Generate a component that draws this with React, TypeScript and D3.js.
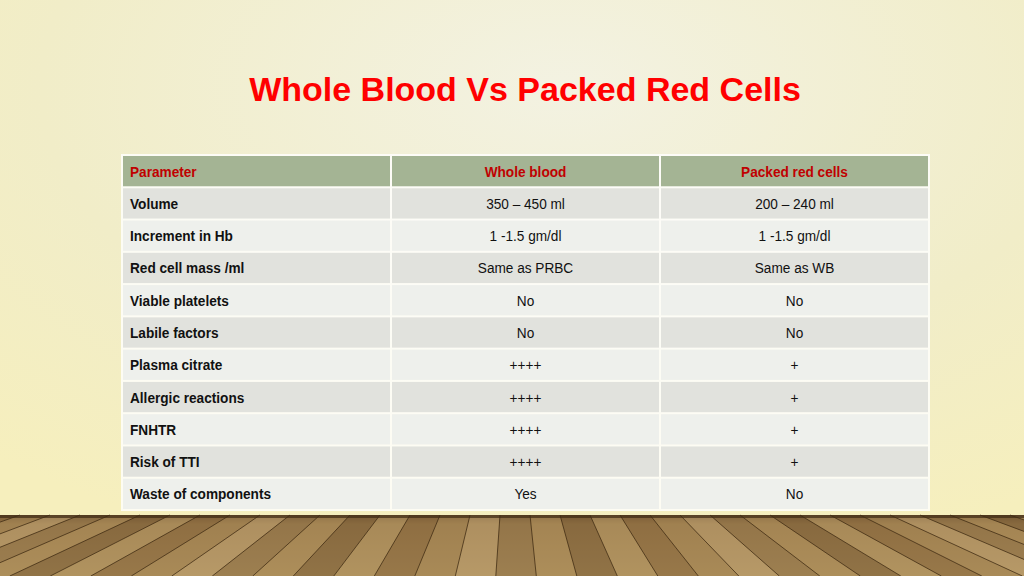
import React, { useEffect, useRef } from 'react'
import * as d3 from 'd3'

const title = 'Whole Blood Vs Packed Red Cells'
const headers = ['Parameter', 'Whole blood', 'Packed red cells']
const parameters = ['Volume', 'Increment in Hb', 'Red cell mass /ml', 'Viable platelets', 'Labile factors', 'Plasma citrate', 'Allergic reactions', 'FNHTR', 'Risk of TTI', 'Waste of components']
const wholeBlood = ['350 – 450 ml', '1 -1.5 gm/dl', 'Same as PRBC', 'No', 'No', '++++', '++++', '++++', '++++', 'Yes']
const packedCells = ['200 – 240 ml', '1 -1.5 gm/dl', 'Same as WB', 'No', 'No', '+', '+', '+', '+', 'No']

const App = () => {
  const svgRef = useRef<SVGSVGElement>(null)

  useEffect(() => {
    const width = 1024
    const height = 576
    const svg = d3.select(svgRef.current)
    svg.selectAll('*').remove()
    svg.attr('width', width).attr('height', height)

    // background
    const defs = svg.append('defs')
    const bg = defs.append('radialGradient').attr('id', 'bg')
      .attr('cx', '0.55').attr('cy', '0.15').attr('r', '0.85')
    bg.append('stop').attr('offset', '0%').attr('stop-color', '#f3f2e2')
    bg.append('stop').attr('offset', '60%').attr('stop-color', '#f1edc8')
    bg.append('stop').attr('offset', '100%').attr('stop-color', '#f6efbd')
    svg.append('rect').attr('width', width).attr('height', height).attr('fill', 'url(#bg)')

    // wooden floor
    const floorTop = 515
    const wood = defs.append('linearGradient').attr('id', 'wood').attr('x1', 0).attr('y1', 0).attr('x2', 0).attr('y2', 1)
    wood.append('stop').attr('offset', '0%').attr('stop-color', '#6e5230')
    wood.append('stop').attr('offset', '15%').attr('stop-color', '#957548')
    wood.append('stop').attr('offset', '100%').attr('stop-color', '#a88a58')
    svg.append('rect').attr('x', 0).attr('y', floorTop).attr('width', width).attr('height', height - floorTop).attr('fill', 'url(#wood)')
    const cx = 512
    const planks = d3.range(-40, width + 60, 30)
    const tones = ['#b89a66', '#8a6a3e', '#a98a58', '#c2a674', '#94764a', '#b0915d', '#7e6038']
    const g = svg.append('g')
    planks.forEach((x, i) => {
      const x2 = x + 30
      const k = 1.35
      const b1 = cx + (x - cx) * k
      const b2 = cx + (x2 - cx) * k
      g.append('path')
        .attr('d', `M${x},${floorTop}L${x2},${floorTop}L${b2},${height}L${b1},${height}Z`)
        .attr('fill', tones[i % tones.length]).attr('opacity', 0.55)
      g.append('line').attr('x1', x).attr('y1', floorTop).attr('x2', b1).attr('y2', height)
        .attr('stroke', '#3e2a12').attr('stroke-width', 1).attr('opacity', 0.75)
    })
    svg.append('rect').attr('x', 0).attr('y', floorTop).attr('width', width).attr('height', 3).attr('fill', '#3d2a14').attr('opacity', 0.7)

    // title
    svg.append('text')
      .attr('x', 525).attr('y', 101)
      .attr('text-anchor', 'middle')
      .style('font-family', '"Liberation Sans", Arial, sans-serif')
      .style('font-weight', 'bold')
      .style('font-size', '34px')
      .attr('fill', '#ff0000')
      .text(title)

    // table scales
    const xScale = d3.scaleBand<number>().domain([0, 1, 2]).range([122, 929])
    const yScale = d3.scaleBand<number>().domain(d3.range(parameters.length + 1)).range([155, 510])
    const font = '"Liberation Sans", Arial, sans-serif'

    const table = svg.append('g')
    table.append('rect').attr('x', 121).attr('y', 154).attr('width', 809).attr('height', 357).attr('fill', '#ffffff').attr('opacity', 0.8)

    const rows = [headers, ...parameters.map((p, i) => [p, wholeBlood[i], packedCells[i]])]
    rows.forEach((row, r) => {
      row.forEach((cell, c) => {
        const x = xScale(c)!
        const y = yScale(r)!
        table.append('rect')
          .attr('x', x + 1).attr('y', y + 1)
          .attr('width', xScale.bandwidth() - 2).attr('height', yScale.bandwidth() - 2)
          .attr('fill', r === 0 ? '#a4b494' : (r % 2 === 1 ? '#e1e2dd' : '#eef0ec'))
        const tx = c === 0 ? x + 8 : x + xScale.bandwidth() / 2
        const ty = y + yScale.bandwidth() / 2 + 5.5
        table.append('text')
          .attr('transform', `translate(${tx},${ty}) scale(0.88,1)`)
          .attr('text-anchor', c === 0 ? 'start' : 'middle')
          .style('font-family', font)
          .style('font-size', '15.5px')
          .style('font-weight', r === 0 || c === 0 ? 'bold' : 'normal')
          .attr('fill', r === 0 ? '#c00000' : '#111111')
          .text(cell)
      })
    })
  }, [])

  return (
    <svg ref={svgRef} style={{ position: 'absolute', left: 0, top: 0 }}></svg>
  )
}

export default App
